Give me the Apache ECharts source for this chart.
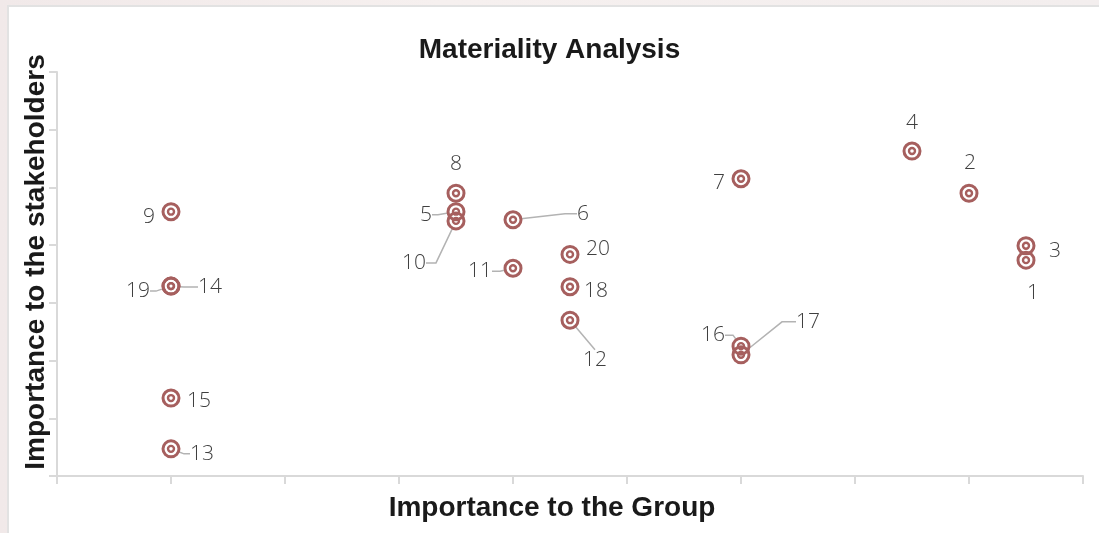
<!DOCTYPE html>
<html>
<head>
<meta charset="utf-8">
<script src="https://cdn.jsdelivr.net/npm/echarts@6/dist/echarts.min.js"></script>
<style>
  html, body { margin: 0; padding: 0; width: 1099px; height: 533px; overflow: hidden;
    background: linear-gradient(90deg, #f1e9e9 0%, #f6f0ef 40%, #f3eeee 100%); }
  #panel { position: absolute; left: 7px; top: 5px; width: 1100px; height: 540px;
    background: #fff; border-left: 2px solid #e2e2e2; border-top: 2px solid #e2e2e2; }
  #chart { position: absolute; left: 0; top: 0; width: 1099px; height: 533px; }
</style>
</head>
<body>
<div id="panel"></div>
<div id="chart"></div>
<script>
// ---- Data ----
const topicIds = ['1','2','3','4','5','6','7','8','9','10','11','12','13','14','15','16','17','18','19','20'];
const groupImportance = [8.5, 8.0, 8.5, 7.5, 3.5, 4.0, 6.0, 3.5, 1.0, 3.5, 4.0, 4.5, 1.0, 1.0, 1.0, 6.0, 6.0, 4.5, 1.0, 4.5];
const stakeholderImportance = [3.74, 4.9, 3.99, 5.63, 4.58, 4.44, 5.15, 4.9, 4.58, 4.42, 3.6, 2.7, 0.47, 3.29, 1.35, 2.25, 2.1, 3.28, 3.29, 3.84];
const xTicks = [0, 1, 2, 3, 4, 5, 6, 7, 8, 9];
const yTicks = [0, 1, 2, 3, 4, 5, 6, 7];

// ---- Label placement (styling, offsets in px from the marker) ----
const labelPlacement = {
  '1':  { dx: 7,   dy: 33 },
  '2':  { dx: 1,   dy: -30 },
  '3':  { dx: 29,  dy: 5 },
  '4':  { dx: 0,   dy: -28 },
  '5':  { dx: -30, dy: 3,  line: 6 },
  '6':  { dx: 70,  dy: -6, line: 12 },
  '7':  { dx: -22, dy: 4 },
  '8':  { dx: 0,   dy: -29 },
  '9':  { dx: -22, dy: 5 },
  '10': { dx: -42, dy: 42, line: 10 },
  '11': { dx: -33, dy: 3,  line: 8 },
  '12': { dx: 25,  dy: 40, line: 0 },
  '13': { dx: 31,  dy: 5,  line: 6 },
  '14': { dx: 39,  dy: 1,  line: 14 },
  '15': { dx: 28,  dy: 3 },
  '16': { dx: -28, dy: -11, line: 8 },
  '17': { dx: 67,  dy: -33, line: 14 },
  '18': { dx: 26,  dy: 4 },
  '19': { dx: -33, dy: 5,  line: 6 },
  '20': { dx: 28,  dy: -5 }
};

const ringColor = '#a65f5e';
const points = topicIds.map(function (id, i) {
  const p = labelPlacement[id];
  const item = { name: id, value: [groupImportance[i], stakeholderImportance[i]] };
  if (p.line !== undefined) {
    item.labelLine = { show: true, length2: p.line, lineStyle: { color: '#b3b3b3', width: 1.5 } };
  } else {
    item.labelLine = { show: false };
  }
  return item;
});

const chart = echarts.init(document.getElementById('chart'), null, { renderer: 'canvas' });
chart.setOption({
  animation: false,
  backgroundColor: 'transparent',
  title: {
    text: 'Materiality Analysis',
    left: 'center',
    top: 31,
    textStyle: { fontFamily: 'Liberation Sans, Arial, sans-serif', fontWeight: 'bold', fontSize: 28, color: '#1a1a1a' }
  },
  grid: { left: 57, right: 16, top: 72, bottom: 57 },
  xAxis: {
    type: 'value',
    min: xTicks[0], max: xTicks[xTicks.length - 1], interval: 1,
    name: 'Importance to the Group',
    nameLocation: 'middle',
    nameGap: 18,
    nameTextStyle: { fontFamily: 'Liberation Sans, Arial, sans-serif', fontWeight: 'bold', fontSize: 28, color: '#1a1a1a', padding: [0, 36, 0, 0] },
    axisLine: { show: true, lineStyle: { color: '#d9d9d9', width: 2 } },
    axisTick: { show: true, length: 8, lineStyle: { color: '#d9d9d9', width: 2 } },
    axisLabel: { show: false },
    splitLine: { show: false }
  },
  yAxis: {
    type: 'value',
    min: yTicks[0], max: yTicks[yTicks.length - 1], interval: 1,
    name: 'Importance to the stakeholders',
    nameLocation: 'middle',
    nameGap: 7,
    nameTextStyle: { fontFamily: 'Liberation Sans, Arial, sans-serif', fontWeight: 'bold', fontSize: 28, color: '#1a1a1a', padding: [0, 0, 0, 24] },
    axisLine: { show: true, lineStyle: { color: '#d9d9d9', width: 2 } },
    axisTick: { show: true, length: 8, lineStyle: { color: '#d9d9d9', width: 2 } },
    axisLabel: { show: false },
    splitLine: { show: false }
  },
  series: [
    {
      type: 'scatter',
      name: 'outer',
      data: points,
      symbol: 'circle',
      symbolSize: 16,
      itemStyle: { color: 'rgba(255,255,255,0)', borderColor: ringColor, borderWidth: 3, opacity: 1 },
      label: {
        show: true,
        position: 'inside',
        formatter: '{b}',
        fontFamily: 'Open Sans, Lato, sans-serif',
        fontWeight: 300,
        fontSize: 21,
        color: '#404040'
      },
      labelLayout: function (params) {
        const id = topicIds[params.dataIndex];
        const p = labelPlacement[id];
        return { dx: p.dx, dy: p.dy };
      },
      z: 3
    },
    {
      type: 'scatter',
      name: 'inner',
      silent: true,
      data: topicIds.map(function (id, i) { return [groupImportance[i], stakeholderImportance[i]]; }),
      symbol: 'circle',
      symbolSize: 6,
      itemStyle: { color: 'rgba(255,255,255,0)', borderColor: ringColor, borderWidth: 2.4, opacity: 1 },
      z: 4
    }
  ]
});
</script>
</body>
</html>
